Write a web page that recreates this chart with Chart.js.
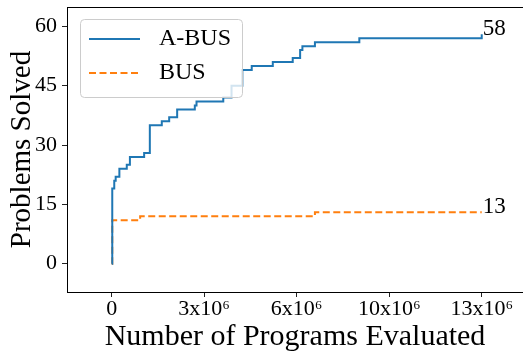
<!DOCTYPE html>
<html>
<head>
<meta charset="utf-8">
<script src="https://cdn.jsdelivr.net/npm/chart.js@4/dist/chart.umd.min.js"></script>
<style>
  html, body { margin: 0; padding: 0; background: #ffffff; overflow: hidden; }
  canvas { display: block; }
</style>
</head>
<body>
<canvas id="chart" width="523" height="352"></canvas>
<script>
// Cumulative problems solved against programs evaluated (step curves)
const aBusEvaluated = [0, 20000, 90000, 140000, 270000, 530000, 640000, 1140000, 1340000,
  1760000, 2020000, 2300000, 2920000, 2980000, 3920000, 4210000, 4590000, 4920000,
  5660000, 6360000, 6620000, 6700000, 7140000, 8700000, 13000000];
const aBusSolved = [0, 19, 21, 22, 24, 25, 27, 28, 35,
  36, 37, 39, 40, 41, 42, 45, 49, 50,
  51, 52, 54, 55, 56, 57, 58];

const busEvaluated = [0, 20000, 1000000, 7140000, 13000000];
const busSolved = [0, 11, 12, 13, 13];

const seriesNames = ['A-BUS', 'BUS'];
const seriesColors = ['#1f77b4', '#ff7f0e'];

const xTickValues = [0, 3250000, 6500000, 9750000, 13000000];
const xTickLabels = ['0', '3x10\u2076', '6x10\u2076', '10x10\u2076', '13x10\u2076'];
const yTickValues = [0, 15, 30, 45, 60];

const SERIF = '"Liberation Serif", "DejaVu Serif", serif';

function toPoints(xs, ys) {
  return xs.map((x, i) => ({ x: x, y: ys[i] }));
}

// Top spine of the axes frame
const frameTop = {
  id: 'frameTop',
  afterDraw(chart) {
    const { ctx, chartArea } = chart;
    const y = Math.round(chartArea.top) + 0.5;
    ctx.save();
    ctx.strokeStyle = '#000000';
    ctx.lineWidth = 1;
    ctx.beginPath();
    ctx.moveTo(chartArea.left, y);
    ctx.lineTo(chartArea.right, y);
    ctx.stroke();
    ctx.restore();
  }
};

// Final count written next to the end of each curve
const endLabels = {
  id: 'endLabels',
  afterDatasetsDraw(chart) {
    const { ctx } = chart;
    ctx.save();
    ctx.font = '23px ' + SERIF;
    ctx.fillStyle = '#000000';
    ctx.textAlign = 'left';
    ctx.textBaseline = 'alphabetic';
    chart.data.datasets.forEach((ds, i) => {
      const meta = chart.getDatasetMeta(i);
      const last = meta.data[meta.data.length - 1];
      const value = ds.data[ds.data.length - 1].y;
      ctx.fillText(String(value), last.x + 1, last.y + 1);
    });
    ctx.restore();
  }
};

// Framed legend box in the upper-left corner of the plot
const boxLegend = {
  id: 'boxLegend',
  afterDatasetsDraw(chart) {
    const { ctx } = chart;
    const bx = 80, by = 19, bw = 162, bh = 78, r = 4;
    ctx.save();
    ctx.beginPath();
    ctx.roundRect(bx + 0.5, by + 0.5, bw, bh, r);
    ctx.fillStyle = 'rgba(255,255,255,0.8)';
    ctx.fill();
    ctx.strokeStyle = '#cccccc';
    ctx.lineWidth = 1;
    ctx.stroke();
    chart.data.datasets.forEach((ds, i) => {
      const y = 39 + i * 34;
      ctx.beginPath();
      ctx.strokeStyle = ds.borderColor;
      ctx.lineWidth = ds.borderWidth;
      ctx.setLineDash(ds.borderDash || []);
      ctx.moveTo(89, y);
      ctx.lineTo(140, y);
      ctx.stroke();
      ctx.setLineDash([]);
      ctx.font = '24px ' + SERIF;
      ctx.fillStyle = '#000000';
      ctx.textAlign = 'left';
      ctx.textBaseline = 'middle';
      ctx.fillText(ds.label, 159, y);
    });
    ctx.restore();
  }
};

new Chart(document.getElementById('chart'), {
  type: 'line',
  data: {
    datasets: [
      {
        label: seriesNames[0],
        data: toPoints(aBusEvaluated, aBusSolved),
        borderColor: seriesColors[0],
        backgroundColor: seriesColors[0],
        borderWidth: 2,
        stepped: true,
        pointRadius: 0,
        fill: false
      },
      {
        label: seriesNames[1],
        data: toPoints(busEvaluated, busSolved),
        borderColor: seriesColors[1],
        backgroundColor: seriesColors[1],
        borderWidth: 2,
        borderDash: [7, 3.5],
        stepped: true,
        pointRadius: 0,
        fill: false
      }
    ]
  },
  options: {
    responsive: false,
    animation: false,
    devicePixelRatio: 1,
    layout: { padding: { top: 7, left: 0, right: 0, bottom: 0 } },
    plugins: {
      legend: { display: false },
      tooltip: { enabled: false }
    },
    scales: {
      x: {
        type: 'linear',
        min: -1570000,
        max: 14450000,
        afterBuildTicks(scale) {
          scale.ticks = xTickValues.map(v => ({ value: v }));
        },
        afterFit(scale) {
          scale.height = 60;
          scale.paddingLeft = 0;
          scale.paddingRight = 0;
        },
        ticks: {
          callback: (value, index) => xTickLabels[index],
          font: { family: SERIF, size: 22, lineHeight: 1 },
          color: '#000000',
          padding: 1.6,
          maxRotation: 0,
          autoSkip: false
        },
        grid: {
          drawOnChartArea: false,
          drawTicks: true,
          tickLength: 5,
          tickColor: '#222222'
        },
        border: { display: true, color: '#000000', width: 1 },
        title: {
          display: true,
          text: 'Number of Programs Evaluated',
          font: { family: SERIF, size: 30, lineHeight: 1 },
          color: '#000000',
          padding: { top: 0, bottom: 0 }
        }
      },
      y: {
        type: 'linear',
        min: -7.16,
        max: 64.9,
        afterBuildTicks(scale) {
          scale.ticks = yTickValues.map(v => ({ value: v }));
        },
        afterFit(scale) {
          scale.width = 67;
          scale.paddingTop = 0;
          scale.paddingBottom = 0;
        },
        ticks: {
          font: { family: SERIF, size: 22, lineHeight: 1 },
          color: '#000000',
          padding: 5
        },
        grid: {
          drawOnChartArea: false,
          drawTicks: true,
          tickLength: 5,
          tickColor: '#222222'
        },
        border: { display: true, color: '#000000', width: 1 },
        title: {
          display: true,
          text: 'Problems Solved',
          font: { family: SERIF, size: 29, lineHeight: 1 },
          color: '#000000',
          padding: { top: 7.4, bottom: 0 }
        }
      }
    }
  },
  plugins: [frameTop, boxLegend, endLabels]
});
</script>
</body>
</html>
